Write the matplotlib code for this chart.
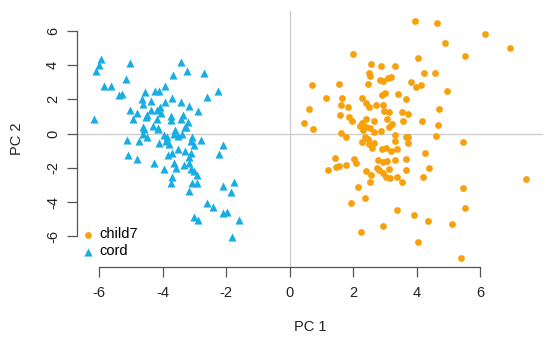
import numpy as np
import matplotlib.pyplot as plt

plt.rcParams['font.family'] = ['Liberation Sans', 'DejaVu Sans']

# PCA scores
cord_pc1 = [-5.93, -6.00, -6.11, -5.04, -3.41, -3.22, -2.70, -3.66, -5.15, -5.84,
            -5.61, -5.38, -5.28, -4.56, -4.25, -4.10, -3.91, -2.27, -2.60, -4.65,
            -4.38, -3.69, -3.94, -3.41, -3.16, -4.61, -4.08, -5.03, -4.82, -4.35,
            -4.17, -4.04, -4.48, -4.52, -3.73, -3.35, -2.89, -6.16, -4.92, -4.19,
            -3.75, -3.41, -3.20, -4.61, -4.29, -3.31, -4.15, -3.62, -4.59, -4.61,
            -4.15, -3.96, -3.85, -3.64, -3.52, -3.39, -3.25, -3.08, -2.78, -5.13,
            -4.73, -4.50, -4.10, -3.90, -3.79, -3.12, -3.02, -2.09, -2.24, -5.09,
            -4.79, -3.69, -3.83, -3.52, -3.31, -3.12, -3.18, -4.27, -3.96, -3.64,
            -3.58, -3.33, -3.16, -3.10, -3.02, -2.93, -3.71, -3.73, -3.08, -2.91,
            -3.16, -2.09, -1.74, -1.84, -2.60, -2.41, -2.09, -1.97, -3.02, -2.87,
            -1.59, -1.80]
cord_pc2 = [4.33, 4.00, 3.67, 4.13, 4.16, 3.65, 3.55, 3.40, 3.16, 2.77,
            2.77, 2.23, 2.31, 2.42, 2.46, 2.48, 2.76, 2.48, 2.11, 2.00,
            1.91, 2.05, 1.84, 1.82, 1.61, 1.72, 1.56, 1.37, 1.21, 1.37,
            1.37, 1.18, 1.08, 0.95, 1.02, 1.06, 1.33, 0.86, 0.86, 0.86,
            0.79, 0.83, 0.67, 0.36, 0.44, 0.40, 0.30, 0.20, 0.25, 0.00,
            0.25, -0.09, -0.22, 0.00, -0.15, 0.00, 0.36, -0.22, -0.38, -0.38,
            -0.46, -0.22, -0.57, -0.42, -0.61, -0.42, -0.69, -0.65, -1.20, -1.24,
            -1.47, -1.12, -1.24, -0.92, -1.00, -1.12, -1.39, -1.70, -2.05, -1.70,
            -2.01, -1.86, -1.74, -2.05, -2.17, -2.41, -2.56, -2.87, -2.87, -2.91,
            -3.34, -3.06, -2.83, -3.42, -4.04, -4.31, -4.62, -4.58, -4.89, -5.05,
            -5.05, -6.06]

child_pc1 = [3.95, 4.65, 6.14, 4.88, 6.93, 5.52, 1.99, 4.04, 2.57, 2.88,
             3.31, 2.49, 2.54, 2.85, 2.95, 3.10, 3.20, 4.23, 4.56, 3.83,
             3.98, 4.13, 0.71, 1.54, 2.45, 4.96, 2.90, 3.00, 3.42, 3.67,
             1.13, 1.66, 2.28, 2.41, 2.49, 1.63, 1.85, 2.72, 2.93, 2.98,
             3.12, 0.61, 4.69, 3.52, 3.73, 1.57, 1.87, 1.95, 0.44, 2.28,
             2.39, 2.64, 3.06, 3.23, 3.58, 4.15, 4.67, 0.74, 2.22, 2.41,
             2.54, 3.14, 2.32, 2.66, 2.87, 1.63, 1.76, 2.37, 2.45, 3.33,
             3.67, 3.73, 4.61, 5.47, 2.28, 2.49, 2.64, 2.60, 3.31, 3.71,
             2.91, 3.04, 3.19, 3.39, 4.25, 1.44, 2.01, 2.10, 2.79, 2.95,
             3.06, 3.31, 3.67, 1.21, 1.47, 1.55, 1.76, 2.75, 2.81, 2.41,
             2.56, 2.93, 3.02, 3.12, 3.16, 3.37, 3.67, 4.38, 4.21, 3.52,
             2.54, 2.14, 5.44, 7.43, 2.37, 1.93, 3.37, 5.53, 3.91, 4.36,
             5.11, 2.93, 2.24, 4.04, 5.39]
child_pc2 = [6.58, 6.43, 5.79, 5.27, 4.97, 4.54, 4.64, 4.39, 4.07, 3.94,
             3.96, 3.51, 3.36, 3.12, 3.05, 3.22, 3.32, 3.55, 3.51, 3.01,
             2.70, 2.81, 2.85, 2.89, 2.91, 2.50, 2.27, 2.38, 2.31, 2.00,
             2.09, 2.09, 2.09, 1.76, 1.53, 1.68, 1.56, 1.65, 1.68, 1.33,
             1.26, 1.45, 1.45, 1.26, 1.14, 1.06, 0.95, 0.71, 0.63, 0.63,
             0.83, 0.71, 0.86, 0.55, 0.75, 0.75, 0.51, 0.25, 0.44, 0.40,
             0.32, 0.36, 0.20, 0.09, 0.13, 0.01, -0.19, -0.19, -0.30, -0.11,
             -0.19, -0.22, -0.13, -0.48, -0.50, -0.61, -0.57, -0.85, -0.42, -0.54,
             -0.92, -0.85, -1.00, -0.92, -1.12, -1.43, -1.51, -1.70, -1.55, -1.66,
             -1.59, -1.55, -1.51, -2.13, -1.97, -1.90, -1.86, -2.01, -2.13, -2.21,
             -2.44, -2.32, -2.52, -2.05, -2.60, -2.52, -2.13, -2.00, -2.52, -2.83,
             -2.83, -3.14, -3.16, -2.67, -3.77, -4.07, -4.47, -4.35, -4.78, -5.09,
             -5.27, -5.40, -5.73, -6.32, -7.24]

ticks = [-6, -4, -2, 0, 2, 4, 6]
orange = '#f7a10c'
blue = '#18aee3'


def r_range(vals):
    lo, hi = min(vals), max(vals)
    pad = 0.04 * (hi - lo)
    return lo - pad, hi + pad


fig = plt.figure(figsize=(5.5, 3.38), dpi=100)
ax = fig.add_axes([76.7 / 550, 1 - 267 / 338, (543 - 76.7) / 550, (267 - 11.4) / 338])

ax.axhline(0, color='#cccccc', lw=0.9, zorder=0)
ax.axvline(0, color='#cccccc', lw=0.9, zorder=0)

ax.scatter(child_pc1, child_pc2, s=24, marker='o', color=orange, linewidths=0, label='child7')
ax.scatter(cord_pc1, cord_pc2, s=34, marker='^', color=blue, linewidths=0, label='cord')

ax.set_xlim(*r_range(cord_pc1 + child_pc1))
ax.set_ylim(*r_range(cord_pc2 + child_pc2))
ax.set_xticks(ticks)
ax.set_yticks(ticks)
ax.set_xticklabels([str(t) for t in ticks])
ax.set_yticklabels([str(t) for t in ticks], rotation=90, va='center')

for side in ['top', 'right']:
    ax.spines[side].set_visible(False)
for side in ['left', 'bottom']:
    ax.spines[side].set_bounds(-6, 6)
    ax.spines[side].set_color('#555555')
    ax.spines[side].set_linewidth(0.9)
ax.tick_params(colors='#555555', labelcolor='#222222', length=7, width=0.9,
               labelsize=10.5, pad=7)
ax.tick_params(axis='y', pad=5)

ax.set_xlabel('PC 1', fontsize=10.5, labelpad=14, color='#222222')
ax.set_ylabel('PC 2', fontsize=10.5, labelpad=16, color='#222222')

ax.legend(loc='lower left', frameon=False, fontsize=10.5, handletextpad=0.2,
          borderpad=0.2, borderaxespad=0.2, labelspacing=0.2,
          handlelength=1.2, bbox_to_anchor=(-0.008, 0.011))

fig.savefig('out.png', dpi=100)
